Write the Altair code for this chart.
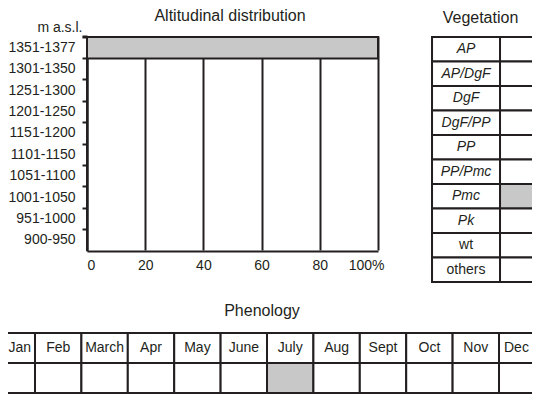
import altair as alt
import pandas as pd

# ---------------- data ----------------
alt_ranges = ['1351-1377', '1301-1350', '1251-1300', '1201-1250', '1151-1200',
              '1101-1150', '1051-1100', '1001-1050', '951-1000', '900-950']
alt_pct = [100, 0, 0, 0, 0, 0, 0, 0, 0, 0]
x_ticks = [0, 20, 40, 60, 80, 100]

veg_types = ['AP', 'AP/DgF', 'DgF', 'DgF/PP', 'PP', 'PP/Pmc', 'Pmc', 'Pk', 'wt', 'others']
veg_present = [0, 0, 0, 0, 0, 0, 1, 0, 0, 0]
veg_italic = [True, True, True, True, True, True, True, True, False, False]

months = ['Jan', 'Feb', 'March', 'Apr', 'May', 'June', 'July', 'Aug', 'Sept', 'Oct', 'Nov', 'Dec']
month_present = [0, 0, 0, 0, 0, 0, 1, 0, 0, 0, 0, 0]

INK = '#231f20'
GRAY = '#c8c8c8'
FONT = 'Liberation Sans'

fill_scale = alt.Scale(domain=['empty', 'present'], range=['white', GRAY])

# ---------------- altitudinal distribution ----------------
df_alt = pd.DataFrame({'range': alt_ranges, 'pct': alt_pct})

A = alt.Chart(df_alt).mark_bar(color=GRAY, stroke=INK, strokeWidth=2).encode(
    x=alt.X('pct:Q',
            scale=alt.Scale(domain=[0, 100], range=[79, 370]),
            axis=alt.Axis(values=x_ticks, grid=True, gridColor=INK, gridWidth=2,
                          ticks=False, domainColor=INK, domainWidth=2,
                          labelFontSize=14, labelColor=INK, labelPadding=7,
                          labelExpr="datum.value == 100 ? '100%' : datum.label",
                          labelOffset={'condition': {'test': 'datum.value == 100', 'value': 6},
                                       'value': 0},
                          title=None)),
    y=alt.Y('range:N', sort=alt_ranges,
            scale=alt.Scale(domain=alt_ranges, range=[1, 215], paddingInner=0, paddingOuter=0),
            axis=alt.Axis(title='m a.s.l.', titleAngle=0, titleAlign='right',
                          titleBaseline='alphabetic', titleX=-5, titleY=-5,
                          titleFontSize=14, titleFontWeight='normal', titleColor=INK,
                          offset=-79, bandPosition=0, tickExtra=True, tickSize=5,
                          tickWidth=2, tickColor=INK, domainColor=INK, domainWidth=2,
                          labelFontSize=14, labelColor=INK, labelPadding=7, grid=False))
).properties(
    width=370, height=215,
    title=alt.TitleParams('Altitudinal distribution', fontSize=16, fontWeight='normal',
                          color=INK, anchor='middle', frame='group', dx=37, offset=-17,
                          baseline='alphabetic')
)

# ---------------- vegetation table ----------------
veg_cells = pd.concat([
    pd.DataFrame({'veg': veg_types, 'c0': 0, 'c1': 1, 'fill': 'empty'}),
    pd.DataFrame({'veg': veg_types, 'c0': 1, 'c1': 2,
                  'fill': ['present' if p else 'empty' for p in veg_present]}),
])
df_veg = pd.DataFrame({'veg': veg_types, 'italic': veg_italic})

veg_x = alt.Scale(domain=[-0.015, 1.47])
veg_y = alt.Scale(domain=veg_types, range=[1, 246], paddingInner=0, paddingOuter=0)

veg_rect = alt.Chart(veg_cells).mark_rect(stroke=INK, strokeWidth=2, clip=True).encode(
    x=alt.X('c0:Q', scale=veg_x, axis=None),
    x2='c1:Q',
    y=alt.Y('veg:N', sort=veg_types, scale=veg_y, axis=None),
    fill=alt.Fill('fill:N', scale=fill_scale, legend=None),
)
veg_text_it = alt.Chart(df_veg).transform_filter('datum.italic').mark_text(
    fontSize=14, color=INK, fontStyle='italic').encode(
    x=alt.datum(0.5, scale=veg_x, type='quantitative'),
    y=alt.Y('veg:N', sort=veg_types, scale=veg_y, axis=None),
    text='veg:N',
)
veg_text_up = alt.Chart(df_veg).transform_filter('!datum.italic').mark_text(
    fontSize=14, color=INK).encode(
    x=alt.datum(0.5, scale=veg_x, type='quantitative'),
    y=alt.Y('veg:N', sort=veg_types, scale=veg_y, axis=None),
    text='veg:N',
)
V = alt.layer(veg_rect, veg_text_it, veg_text_up).properties(
    width=101, height=247,
    title=alt.TitleParams('Vegetation', fontSize=16, fontWeight='normal', color=INK,
                          anchor='middle', frame='group', dx=-1, offset=-3,
                          baseline='alphabetic')
)

# ---------------- phenology table ----------------
idx = list(range(len(months)))
phen_cells = pd.concat([
    pd.DataFrame({'month': months, 'm0': idx, 'm1': [i + 1 for i in idx],
                  'row': 'name', 'fill': 'empty'}),
    pd.DataFrame({'month': months, 'm0': idx, 'm1': [i + 1 for i in idx],
                  'row': 'value', 'fill': ['present' if p else 'empty' for p in month_present]}),
])
df_month = pd.DataFrame({'month': months, 'm0': idx, 'm1': [i + 1 for i in idx], 'row': 'name'})

phen_x = alt.Scale(domain=[0.418, 11.711])
phen_y = alt.Scale(domain=['name', 'value'], range=[1, 61], paddingInner=0, paddingOuter=0)

phen_rect = alt.Chart(phen_cells).mark_rect(stroke=INK, strokeWidth=2, clip=True).encode(
    x=alt.X('m0:Q', scale=phen_x, axis=None),
    x2='m1:Q',
    y=alt.Y('row:N', scale=phen_y, axis=None),
    fill=alt.Fill('fill:N', scale=fill_scale, legend=None),
)
# months fully inside the visible frame: centred in their cells
phen_text = alt.Chart(df_month).transform_filter(
    "datum.month != 'Jan' && datum.month != 'Dec'").transform_calculate(
    mc='datum.m0 + 0.5').mark_text(fontSize=14, color=INK, clip=True).encode(
    x=alt.X('mc:Q', scale=phen_x, axis=None),
    y=alt.Y('row:N', scale=phen_y, axis=None),
    text='month:N',
)
# first and last cells are cut by the frame: keep their labels readable
phen_text_first = alt.Chart(df_month).transform_filter("datum.month == 'Jan'").mark_text(
    fontSize=14, color=INK, align='right', dx=-4, clip=True).encode(
    x=alt.X('m1:Q', scale=phen_x, axis=None),
    y=alt.Y('row:N', scale=phen_y, axis=None),
    text='month:N',
)
phen_text_last = alt.Chart(df_month).transform_filter("datum.month == 'Dec'").mark_text(
    fontSize=14, color=INK, align='left', dx=5, clip=True).encode(
    x=alt.X('m0:Q', scale=phen_x, axis=None),
    y=alt.Y('row:N', scale=phen_y, axis=None),
    text='month:N',
)
P = alt.layer(phen_rect, phen_text, phen_text_first, phen_text_last).properties(
    width=524, height=62,
    title=alt.TitleParams('Phenology', fontSize=16, fontWeight='normal', color=INK,
                          anchor='middle', frame='group', dx=-8, offset=0,
                          baseline='alphabetic')
)

top = alt.hconcat(A, V, spacing=53, bounds='flush')
chart = alt.vconcat(top, P, spacing=20).properties(padding=0).configure(
    font=FONT
).configure_axis(labelFont=FONT, titleFont=FONT).configure_title(font=FONT).configure_view(
    stroke=None
)

chart.save("out.html", embed_options={"renderer": "svg", "actions": False})
